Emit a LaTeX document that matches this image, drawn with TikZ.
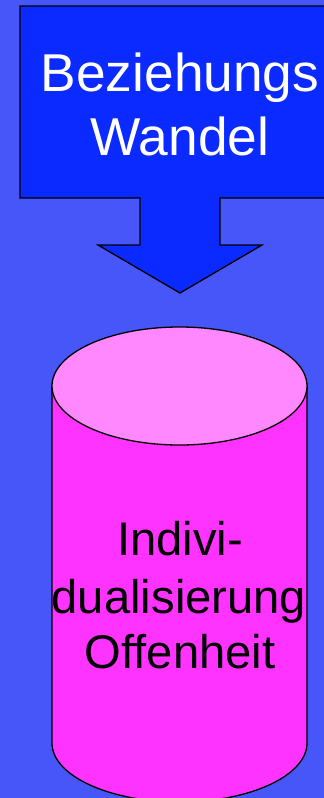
\documentclass[tikz,border=0pt]{standalone}
\usepackage{fontspec}
\setmainfont{Liberation Sans}
\definecolor{bg}{HTML}{4656F8}
\definecolor{arrowblue}{HTML}{0A2AFF}
\definecolor{cylbody}{HTML}{FF33FF}
\definecolor{cyltop}{HTML}{FF88FF}
\tikzset{
  outline/.style={draw=black, line width=1.3pt, line join=miter},
  bigtext/.style={anchor=base, inner sep=0pt, text=white, font=\fontsize{53.3}{64}\selectfont},
  cyltext/.style={anchor=base, inner sep=0pt, text=black, font=\fontsize{47.2}{56}\selectfont}
}
\begin{document}
\begin{tikzpicture}[x=1pt,y=-1pt]
  \useasboundingbox (0,0) rectangle (324,798);
  \clip (0,0) rectangle (324,798);
  \fill[bg] (0,0) rectangle (324,798);
  % callout arrow
  \path[outline, fill=arrowblue]
    (20,6) -- (330,6) -- (330,198) -- (220,198) -- (220,245) -- (262,245)
    -- (180,293) -- (98,245) -- (140,245) -- (140,198) -- (20,198) -- cycle;
  \node[bigtext] (l1) at (180,91) {Beziehungs};
  \node[bigtext] (l2) at (180,155) {Wandel};
  % cylinder
  \path[outline, fill=cylbody]
    (52,386) -- (52,743) arc[start angle=180, end angle=360, x radius=127.5, y radius=-59]
    -- (307,386) -- cycle;
  \path[outline, fill=cyltop] (179.5,386) ellipse[x radius=127.5, y radius=59];
  \node[cyltext] (c1) at (180,555) {Indivi-};
  \node[cyltext] (c2) at (179,613) {dualisierung};
  \node[cyltext] (c3) at (180,668) {Offenheit};
\end{tikzpicture}
\end{document}
